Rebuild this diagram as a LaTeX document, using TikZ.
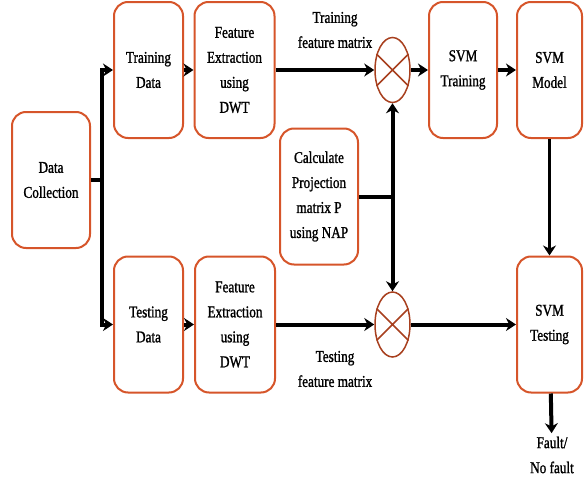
\documentclass[tikz,border=0pt]{standalone}
\usepackage{fontspec}
\setmainfont{Liberation Serif}[FakeStretch=0.8,FakeBold=1.2]
\usetikzlibrary{arrows.meta,shapes.geometric}
\definecolor{boxorange}{HTML}{D6552A}
\definecolor{mixred}{HTML}{A8401F}
\tikzset{
  blk/.style={draw=boxorange, line width=2pt, rounded corners=14pt, align=center,
    minimum height=136pt, inner sep=0pt},
  mix/.style={draw=mixred, line width=1.5pt, ellipse, minimum width=35pt,
    minimum height=65pt, inner sep=0pt},
  conn/.style={line width=4pt},
  flow/.style={conn, -{Stealth[length=10pt,width=13pt]}},
  lbl/.style={align=center}
}
\begin{document}
\begin{tikzpicture}[x=1pt,y=1pt,yscale=-1,font=\fontsize{16.5}{25}\selectfont]
  \useasboundingbox (0,0) rectangle (584,479);
  \node[blk, minimum width=78pt] (collect) at (51,180) {Data\\Collection};
  \node[blk, minimum width=69pt] (traindata) at (148.5,70) {Training\\Data};
  \node[blk, minimum width=80pt] (trainfeat) at (234.5,70) {Feature\\Extraction\\using\\DWT};
  \node[mix] (trainmix) at (392.5,70) {};
  \node[blk, minimum width=68pt] (svmtrain) at (463,70) {SVM\\Training};
  \node[blk, minimum width=65pt] (svmmodel) at (549.5,70) {SVM\\Model};
  \node[blk, minimum width=78pt] (nap) at (319,196.5) {Calculate\\Projection\\matrix P\\using NAP};
  \node[blk, minimum width=69pt] (testdata) at (148.5,324.5) {Testing\\Data};
  \node[blk, minimum width=80pt] (testfeat) at (235,324.5) {Feature\\Extraction\\using\\DWT};
  \node[mix] (testmix) at (392.5,324.5) {};
  \node[blk, minimum width=65pt] (svmtest) at (549.5,324.5) {SVM\\Testing};
  \node[lbl] (trainlbl) at (335,30) {Training\\feature matrix};
  \node[lbl] (testlbl) at (335,369) {Testing\\feature matrix};
  \node[lbl] (result) at (552,455) {Fault/\\No fault};
  \coordinate (split) at (102,180);
  \coordinate (napjoin) at (392.5,196.5);
  % crosses inside the mixers
  \draw[mixred, line width=1.5pt] (trainmix.45) -- (trainmix.225) (trainmix.135) -- (trainmix.315);
  \draw[mixred, line width=1.5pt] (testmix.45) -- (testmix.225) (testmix.135) -- (testmix.315);
  % connectors
  \draw[conn] (collect.east) -- (split);
  \draw[flow] (split) |- (traindata.west);
  \draw[flow] (split) |- (testdata.west);
  \draw[flow] (traindata) -- (trainfeat);
  \draw[flow] (trainfeat) -- (trainmix);
  \draw[flow] (trainmix) -- (svmtrain);
  \draw[flow] (svmtrain) -- (svmmodel);
  \draw[flow, line width=2.5pt] (svmmodel) -- (svmtest);
  \draw[conn] (nap) -- (napjoin);
  \draw[flow] (napjoin) -- (trainmix);
  \draw[flow] (napjoin) -- (testmix);
  \draw[flow] (testdata) -- (testfeat);
  \draw[flow] (testfeat) -- (testmix);
  \draw[flow] (testmix) -- (svmtest);
  \draw[flow] (svmtest) -- (result);
\end{tikzpicture}
\end{document}
